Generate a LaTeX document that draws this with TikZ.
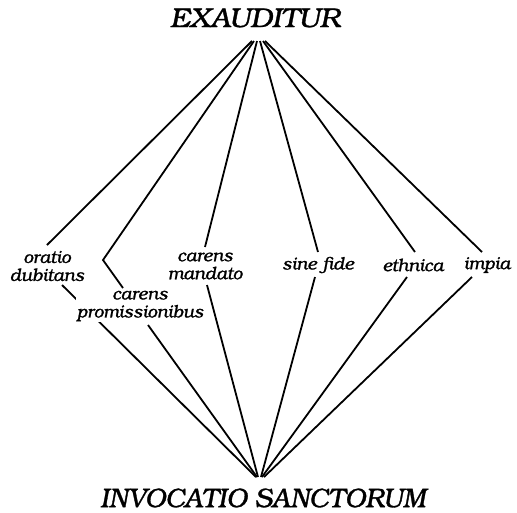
\documentclass[tikz,border=0pt]{standalone}
\usepackage{fontspec}
\setmainfont{texgyrebonum-regular.otf}[ItalicFont=texgyrebonum-italic.otf,ItalicFeatures={FakeBold=1.2}]
\begin{document}
\begin{tikzpicture}[x=1pt,y=-1pt,
  link/.style={line width=1.8pt},
  lab/.style={font=\fontsize{17.5}{18}\selectfont\itshape, align=center, inner sep=1pt},
  title/.style={inner sep=0pt}]
\useasboundingbox (0,0) rectangle (517,512);
% titles
\node[title, font=\fontsize{27}{30}\selectfont\itshape] (ex) at (255,18) {\scalebox{1.08}[1]{EXAUDITUR}};
\node[title, font=\fontsize{26.8}{30}\selectfont\itshape] (inv) at (263,498) {INVOCATIO SANCTORUM};
% apex points
\coordinate (t1) at (252,41);
\coordinate (t2) at (254,41);
\coordinate (t3) at (257,41);
\coordinate (t4) at (260,41);
\coordinate (t5) at (263,41);
\coordinate (t6) at (265,41);
\coordinate (b1) at (256,477);
\coordinate (b2) at (257,477);
\coordinate (b3) at (258,477);
\coordinate (b4) at (261,477);
\coordinate (b5) at (262,477);
\coordinate (b6) at (264,477);
% label nodes
\node[lab] (od) at (47,266) {oratio\\dubitans};
\node[lab] (cm) at (205,266) {carens\\mandato};
\node[lab] (sf) at (318,265) {sine fide};
\node[lab] (et) at (413,265) {ethnica};
\node[lab] (im) at (487,265) {impia};
% line ends near labels
\coordinate (od-u) at (47,245);
\coordinate (od-d) at (62,285);
\coordinate (cp-bend) at (103,260);
\coordinate (cp-u) at (123,288);
\coordinate (cp-d) at (148,325);
\coordinate (cm-u) at (205,247);
\coordinate (cm-d) at (207,285);
\coordinate (sf-u) at (318,252);
\coordinate (sf-d) at (315,277);
\coordinate (et-u) at (415,252);
\coordinate (et-d) at (407,277);
\coordinate (im-u) at (482,252);
\coordinate (im-d) at (472,277);
% connectors
\draw[link] (t1) -- (od-u);
\draw[link] (od-d) -- (b1);
\draw[link] (t2) -- (cp-bend) -- (cp-u);
\draw[link] (cp-d) -- (b2);
\draw[link] (t3) -- (cm-u);
\draw[link] (cm-d) -- (b3);
\draw[link] (t4) -- (sf-u);
\draw[link] (sf-d) -- (b4);
\draw[link] (t5) -- (et-u);
\draw[link] (et-d) -- (b5);
\draw[link] (t6) -- (im-u);
\draw[link] (im-d) -- (b6);
% label drawn on top of the crossing line
\node[lab, fill=white] (cp) at (140,306) {carens\\promissionibus};
\end{tikzpicture}
\end{document}
